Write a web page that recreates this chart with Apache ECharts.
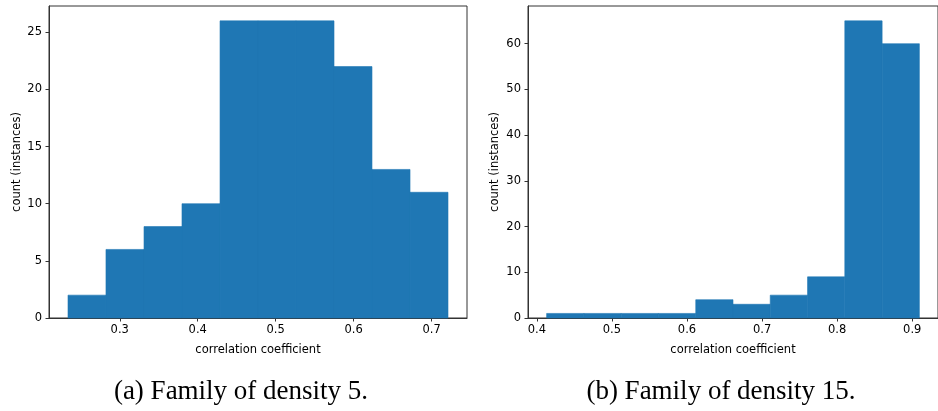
<!DOCTYPE html>
<html>
<head>
<meta charset="utf-8">
<script src="https://cdn.jsdelivr.net/npm/echarts@6/dist/echarts.min.js"></script>
<style>
  html, body { margin: 0; padding: 0; background: #fff; }
  #main { width: 938px; height: 411px; }
</style>
</head>
<body>
<div id="main"></div>
<script>
// histogram (a): density 5, bin edges and counts
var edgesA = [0.2336, 0.2823, 0.3311, 0.3798, 0.4286, 0.4773, 0.5260, 0.5748, 0.6235, 0.6723, 0.7210]
var countsA = [2, 6, 8, 10, 26, 26, 26, 22, 13, 11]
var xTicksA = [0.3, 0.4, 0.5, 0.6, 0.7]
var yTicksA = [0, 5, 10, 15, 20, 25]

// histogram (b): density 15
var edgesB = [0.4131, 0.4627, 0.5124, 0.5620, 0.6117, 0.6613, 0.7109, 0.7606, 0.8102, 0.8599, 0.9095]
var countsB = [1, 1, 1, 1, 4, 3, 5, 9, 65, 60]
var xTicksB = [0.4, 0.5, 0.6, 0.7, 0.8, 0.9]
var yTicksB = [0, 10, 20, 30, 40, 50, 60]

var captions = ['(a) Family of density 5.', '(b) Family of density 15.']

function toBins(edges, counts) {
  var out = []
  for (var i = 0; i < counts.length; i++) {
    out.push([edges[i], edges[i + 1], counts[i]])
  }
  return out
}

// matplotlib style 5% margins on x
function pad(edges) {
  var lo = edges[0], hi = edges[edges.length - 1]
  var m = (hi - lo) * 0.05
  return [lo - m, hi + m]
}

function renderBin(params, api) {
  var p0 = api.coord([api.value(0), api.value(2)])
  var p1 = api.coord([api.value(1), 0])
  return {
    type: 'rect',
    shape: { x: p0[0], y: p0[1], width: p1[0] - p0[0], height: p1[1] - p0[1] },
    style: { fill: '#1f77b4', stroke: '#1f77b4', lineWidth: 0.6 }
  }
}

var labelFont = { color: '#000', fontFamily: 'DejaVu Sans', fontSize: 11.5 }

function xAxisFor(idx, edges, ticks) {
  var r = pad(edges)
  return {
    type: 'value',
    gridIndex: idx,
    min: r[0],
    max: r[1],
    name: 'correlation coefficient',
    nameLocation: 'middle',
    nameGap: 26,
    nameTextStyle: labelFont,
    axisLine: { show: true, lineStyle: { color: '#333', width: 1 } },
    axisTick: { show: true, length: 3.5, customValues: ticks, lineStyle: { color: '#333' } },
    axisLabel: Object.assign({ customValues: ticks, margin: 6 }, labelFont),
    splitLine: { show: false }
  }
}

function yAxisFor(idx, counts, ticks, gap) {
  return {
    type: 'value',
    gridIndex: idx,
    min: 0,
    max: Math.max.apply(null, counts) * 1.05,
    name: 'count (instances)',
    nameLocation: 'middle',
    nameGap: gap,
    nameRotate: 90,
    nameTextStyle: labelFont,
    axisLine: { show: true, lineStyle: { color: '#333', width: 1 } },
    axisTick: { show: true, length: 3.5, customValues: ticks, lineStyle: { color: '#333' } },
    axisLabel: Object.assign({ customValues: ticks, margin: 7 }, labelFont),
    splitLine: { show: false }
  }
}

var chart = echarts.init(document.getElementById('main'), null, { renderer: 'canvas' })

var option = {
  animation: false,
  backgroundColor: '#fff',
  grid: [
    { left: 49, top: 6, width: 418, height: 312, show: true, borderColor: '#333', borderWidth: 1 },
    { left: 528, top: 6, width: 418, height: 312, show: true, borderColor: '#333', borderWidth: 1 }
  ],
  xAxis: [xAxisFor(0, edgesA, xTicksA), xAxisFor(1, edgesB, xTicksB)],
  yAxis: [yAxisFor(0, countsA, yTicksA, 26), yAxisFor(1, countsB, yTicksB, 27)],
  series: [
    {
      type: 'custom',
      xAxisIndex: 0,
      yAxisIndex: 0,
      renderItem: renderBin,
      encode: { x: [0, 1], y: 2 },
      data: toBins(edgesA, countsA)
    },
    {
      type: 'custom',
      xAxisIndex: 1,
      yAxisIndex: 1,
      renderItem: renderBin,
      encode: { x: [0, 1], y: 2 },
      data: toBins(edgesB, countsB)
    }
  ],
  graphic: [
    {
      type: 'text', x: 241, y: 392,
      style: { text: captions[0], font: '27px "Liberation Serif"', fill: '#000', align: 'center', verticalAlign: 'middle' }
    },
    {
      type: 'text', x: 721, y: 392,
      style: { text: captions[1], font: '27px "Liberation Serif"', fill: '#000', align: 'center', verticalAlign: 'middle' }
    }
  ]
}

chart.setOption(option)
</script>
</body>
</html>
